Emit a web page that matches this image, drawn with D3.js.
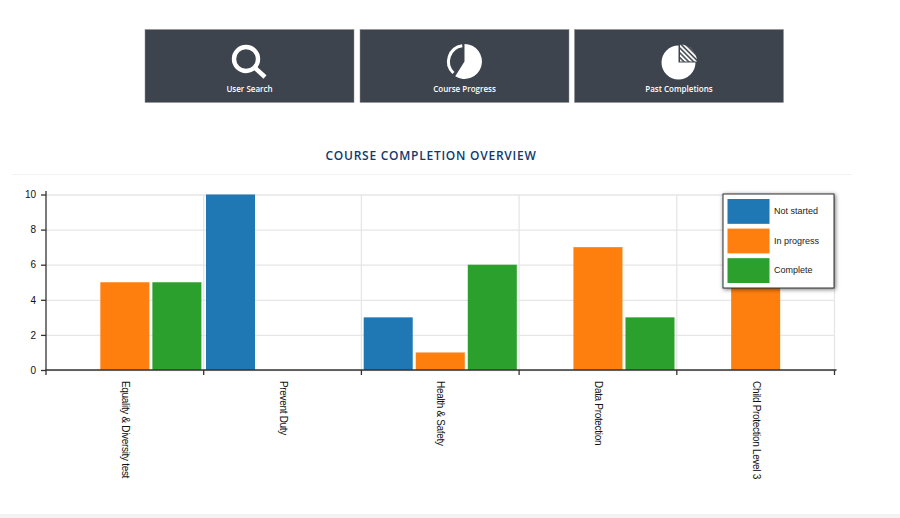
<!DOCTYPE html>
<html>
<head>
<meta charset="utf-8">
<script src="https://d3js.org/d3.v7.min.js"></script>
<style>
html,body{margin:0;padding:0;background:#fff;overflow:hidden}
svg{display:block}
.tick text{font-family:"Liberation Sans",Arial,sans-serif;font-size:10px;fill:#111}
.axis path,.axis line{stroke:#333;stroke-width:1.3px}
.grid line{stroke:#e6e6e6;stroke-width:1.3px}
.grid path{display:none}
</style>
</head>
<body>
<svg id="vis" width="900" height="518"></svg>
<script>
var courses = ["Equality & Diversity test","Prevent Duty","Health & Safety","Data Protection","Child Protection Level 3"];
var statuses = ["Not started","In progress","Complete"];
var notStarted = [0,10,3,0,0];
var inProgress = [5,0,1,7,10];
var complete = [5,0,6,3,0];
var colors = ["#1f77b4","#ff7f0e","#2ca02c"];
var yTicks = [0,2,4,6,8,10];
var buttonLabels = ["User Search","Course Progress","Past Completions"];

var series = [notStarted,inProgress,complete];
var svg = d3.select("#vis");

// footer strip + title
svg.append("rect").attr("x",0).attr("y",514).attr("width",900).attr("height",4).attr("fill","#f2f2f2");
svg.append("text").attr("x",431).attr("y",160).attr("text-anchor","middle")
	.style("font-family","'Open Sans'").style("font-size","12px").style("font-weight",600)
	.style("letter-spacing","0.75px").attr("fill","#0f3a70").text("COURSE COMPLETION OVERVIEW");
svg.append("line").attr("x1",12).attr("x2",852).attr("y1",174.5).attr("y2",174.5).attr("stroke","#f3f3f3");

// buttons
var btnX = d3.scaleOrdinal().domain(buttonLabels).range([145,360,574.5]);
var btn = svg.selectAll(".btn").data(buttonLabels).enter().append("g")
	.attr("class","btn").attr("transform",function(d){return "translate("+btnX(d)+",29.5)";});
btn.append("rect").attr("width",209).attr("height",73).attr("fill","#3e444d").attr("stroke","#8b8f94").attr("stroke-width",0.5);
btn.append("text").attr("x",104.5).attr("y",62.5).attr("text-anchor","middle")
	.style("font-family","'Open Sans'").style("font-size","8px").style("font-weight",600)
	.attr("fill","#fff").text(function(d){return d;});

// search icon
var ic1 = svg.append("g").attr("transform","translate(246,59)");
ic1.append("circle").attr("r",12).attr("fill","none").attr("stroke","#fff").attr("stroke-width",4.4);
ic1.append("line").attr("x1",8.5).attr("y1",8.5).attr("x2",19).attr("y2",18).attr("stroke","#fff").attr("stroke-width",4.4);

// progress icon
var ic2 = svg.append("g").attr("transform","translate(464.5,61.5)");
var arc = d3.arc();
var deg = Math.PI/180;
ic2.append("path").attr("fill","#fff").attr("d",arc({innerRadius:0,outerRadius:17.5,startAngle:0,endAngle:212*deg}));
ic2.append("path").attr("fill","#fff").attr("d",arc({innerRadius:14.5,outerRadius:17.5,startAngle:224*deg,endAngle:352*deg}));

// past completions icon
var ic3 = svg.append("g").attr("transform","translate(678.5,62.5)");
ic3.append("path").attr("fill","#fff").attr("d",arc({innerRadius:0,outerRadius:17,startAngle:90*deg,endAngle:360*deg}));
var defs = svg.append("defs");
var pat = defs.append("pattern").attr("id","hatch").attr("width",3.4).attr("height",3.4)
	.attr("patternUnits","userSpaceOnUse").attr("patternTransform","rotate(-45)");
pat.append("rect").attr("width",1.9).attr("height",3.4).attr("fill","#fff");
ic3.append("path").attr("fill","url(#hatch)").attr("transform","translate(1.5,-1)")
	.attr("d",arc({innerRadius:0,outerRadius:17,startAngle:0,endAngle:90*deg}));

// chart
var x0 = d3.scaleBand().domain(courses).range([46,834.5]);
var x1 = d3.scaleBand().domain(statuses).range([0,x0.bandwidth()]).paddingInner(0.058).paddingOuter(0.044);
var y = d3.scaleLinear().domain([0,10]).range([370,194.5]);

svg.append("g").attr("class","grid")
	.call(d3.axisLeft(y).tickValues(yTicks).tickSize(-788.5).tickFormat(""))
	.attr("transform","translate(46,0)");
svg.append("g").attr("class","grid").attr("transform","translate(0,370)")
	.call(d3.axisBottom(x0).tickValues(courses).tickSize(-175.5).tickFormat(""))
	.selectAll("line").attr("transform",function(){return "translate("+(x0.bandwidth()/2)+",0)";});

var group = svg.selectAll(".group").data(courses).enter().append("g")
	.attr("class","group").attr("transform",function(d){return "translate("+x0(d)+",0)";});
group.selectAll("rect").data(function(d,i){
		return statuses.map(function(s,j){return {status:s,value:series[j][i],color:colors[j]};});
	}).enter().append("rect")
	.attr("x",function(d){return x1(d.status);})
	.attr("width",x1.bandwidth())
	.attr("y",function(d){return y(d.value);})
	.attr("height",function(d){return 370-y(d.value);})
	.attr("fill",function(d){return d.color;});

var xAxis = svg.append("g").attr("class","axis").attr("transform","translate(0,370)")
	.call(d3.axisBottom(x0).tickSizeInner(0).tickSizeOuter(0));
xAxis.select(".domain").attr("d","M46,5V0H836.5");
xAxis.selectAll(".tick text")
	.style("letter-spacing","-0.32px")
	.attr("transform","rotate(90)").attr("text-anchor","start")
	.attr("x",11).attr("y",3).attr("dy",0);
svg.append("g").attr("class","axis").attr("transform","translate(0,370)")
	.call(d3.axisBottom(x0).tickValues(courses).tickSize(5).tickFormat(""))
	.call(function(g){g.select(".domain").remove();})
	.selectAll("line").attr("transform",function(){return "translate("+(x0.bandwidth()/2)+",0)";});

var yAxis = svg.append("g").attr("class","axis").attr("transform","translate(46,0)")
	.call(d3.axisLeft(y).tickValues(yTicks).tickSizeOuter(0).tickSizeInner(5).tickPadding(5));
yAxis.select(".domain").attr("d","M0,370V191");

// legend
var legend = svg.append("g").attr("transform","translate(723,194)");
legend.append("rect").attr("width",111).attr("height",94).attr("fill","#fff").attr("stroke","#333").attr("stroke-width",1)
	.style("filter","drop-shadow(1px 1px 2px rgba(0,0,0,0.55))");
var ly = d3.scaleBand().domain(statuses).range([5,89]).paddingInner(0.16);
legend.selectAll(".sw").data(statuses).enter().append("rect").attr("class","sw")
	.attr("x",4.5).attr("width",42).attr("y",function(d){return ly(d);}).attr("height",ly.bandwidth())
	.attr("fill",function(d,i){return colors[i];});
legend.selectAll(".lt").data(statuses).enter().append("text").attr("class","lt")
	.attr("x",51).attr("y",function(d){return ly(d)+ly.bandwidth()/2+2.5;})
	.style("font-family","'Liberation Sans'").style("font-size","9px").attr("fill","#222")
	.text(function(d){return d;});
</script>
</body>
</html>
